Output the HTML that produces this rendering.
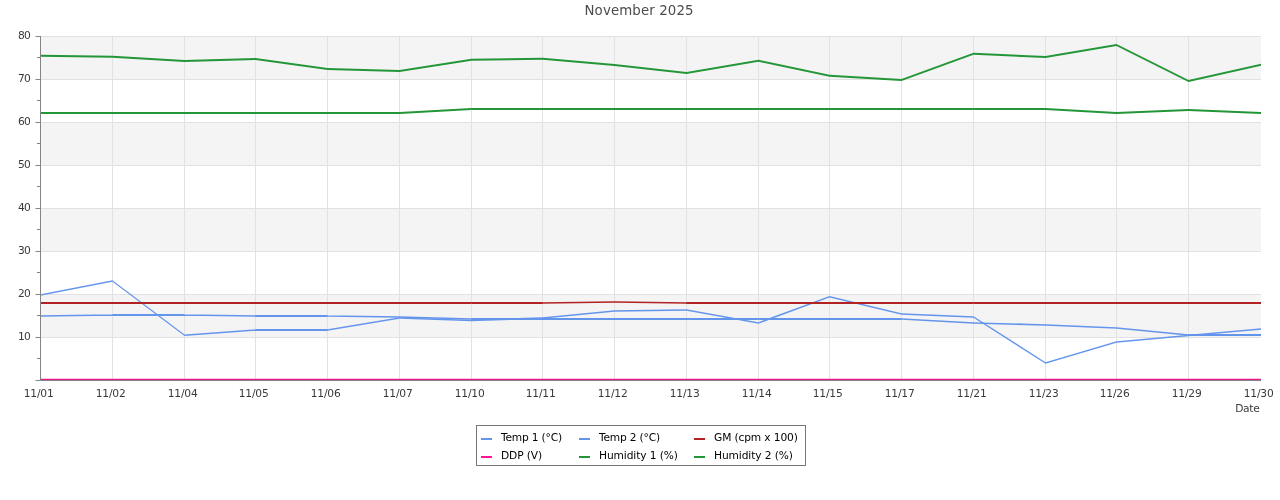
<!DOCTYPE html>
<html><head><meta charset="utf-8"><title>November 2025</title>
<style>
html,body{margin:0;padding:0;background:#fff;width:1280px;height:500px;overflow:hidden}
text{font-family:"DejaVu Sans","Liberation Sans",sans-serif}
.yl{font-size:10.67px;fill:#3a3a3a}
.xl{font-size:10.67px;fill:#3a3a3a}
.ti{font-size:13.33px;fill:#4c4c4c}
.lg{font-size:10.67px;fill:#000}
</style></head><body>
<svg width="1280" height="500" viewBox="0 0 1280 500" style="position:absolute;left:0;top:0">
<rect x="40.5" y="36.5" width="1220.5" height="43" fill="#f4f4f4"/>
<rect x="40.5" y="122.5" width="1220.5" height="43" fill="#f4f4f4"/>
<rect x="40.5" y="208.5" width="1220.5" height="43" fill="#f4f4f4"/>
<rect x="40.5" y="294.5" width="1220.5" height="43" fill="#f4f4f4"/>
<line x1="40.5" y1="36.5" x2="1261" y2="36.5" stroke="#e2e2e2" stroke-width="1"/>
<line x1="40.5" y1="79.5" x2="1261" y2="79.5" stroke="#e2e2e2" stroke-width="1"/>
<line x1="40.5" y1="122.5" x2="1261" y2="122.5" stroke="#e2e2e2" stroke-width="1"/>
<line x1="40.5" y1="165.5" x2="1261" y2="165.5" stroke="#e2e2e2" stroke-width="1"/>
<line x1="40.5" y1="208.5" x2="1261" y2="208.5" stroke="#e2e2e2" stroke-width="1"/>
<line x1="40.5" y1="251.5" x2="1261" y2="251.5" stroke="#e2e2e2" stroke-width="1"/>
<line x1="40.5" y1="294.5" x2="1261" y2="294.5" stroke="#e2e2e2" stroke-width="1"/>
<line x1="40.5" y1="337.5" x2="1261" y2="337.5" stroke="#e2e2e2" stroke-width="1"/>
<line x1="112.50" y1="36.5" x2="112.50" y2="380.5" stroke="#e2e2e2" stroke-width="1"/>
<line x1="184.50" y1="36.5" x2="184.50" y2="380.5" stroke="#e2e2e2" stroke-width="1"/>
<line x1="255.50" y1="36.5" x2="255.50" y2="380.5" stroke="#e2e2e2" stroke-width="1"/>
<line x1="327.50" y1="36.5" x2="327.50" y2="380.5" stroke="#e2e2e2" stroke-width="1"/>
<line x1="399.50" y1="36.5" x2="399.50" y2="380.5" stroke="#e2e2e2" stroke-width="1"/>
<line x1="471.50" y1="36.5" x2="471.50" y2="380.5" stroke="#e2e2e2" stroke-width="1"/>
<line x1="542.50" y1="36.5" x2="542.50" y2="380.5" stroke="#e2e2e2" stroke-width="1"/>
<line x1="614.50" y1="36.5" x2="614.50" y2="380.5" stroke="#e2e2e2" stroke-width="1"/>
<line x1="686.50" y1="36.5" x2="686.50" y2="380.5" stroke="#e2e2e2" stroke-width="1"/>
<line x1="758.50" y1="36.5" x2="758.50" y2="380.5" stroke="#e2e2e2" stroke-width="1"/>
<line x1="829.50" y1="36.5" x2="829.50" y2="380.5" stroke="#e2e2e2" stroke-width="1"/>
<line x1="901.50" y1="36.5" x2="901.50" y2="380.5" stroke="#e2e2e2" stroke-width="1"/>
<line x1="973.50" y1="36.5" x2="973.50" y2="380.5" stroke="#e2e2e2" stroke-width="1"/>
<line x1="1045.50" y1="36.5" x2="1045.50" y2="380.5" stroke="#e2e2e2" stroke-width="1"/>
<line x1="1116.50" y1="36.5" x2="1116.50" y2="380.5" stroke="#e2e2e2" stroke-width="1"/>
<line x1="1188.50" y1="36.5" x2="1188.50" y2="380.5" stroke="#e2e2e2" stroke-width="1"/>
<line x1="40.5" y1="380.5" x2="1261" y2="380.5" stroke="#848484" stroke-width="1"/>
<path d="M40.50,294.14L112.50,280.14L112.50,281.86L40.50,295.86ZM112.50,280.14L184.50,334.39L184.50,336.11L112.50,281.86ZM184.50,334.39L255.50,329.14L255.50,330.86L184.50,336.11ZM255.50,329.00L327.50,329.00L327.50,331.00L255.50,331.00ZM327.50,329.14L399.50,317.14L399.50,318.86L327.50,330.86ZM399.50,317.14L471.50,319.64L471.50,321.36L399.50,318.86ZM471.50,319.64L542.50,317.14L542.50,318.86L471.50,321.36ZM542.50,317.14L614.50,310.14L614.50,311.86L542.50,318.86ZM614.50,310.14L686.50,309.14L686.50,310.86L614.50,311.86ZM686.50,309.14L758.50,322.14L758.50,323.86L686.50,310.86ZM758.50,322.14L829.50,295.89L829.50,297.61L758.50,323.86ZM829.50,295.89L901.50,313.14L901.50,314.86L829.50,297.61ZM901.50,313.14L973.50,316.14L973.50,317.86L901.50,314.86ZM973.50,316.14L1045.50,362.14L1045.50,363.86L973.50,317.86ZM1045.50,362.14L1116.50,341.14L1116.50,342.86L1045.50,363.86ZM1116.50,341.14L1188.50,334.64L1188.50,336.36L1116.50,342.86ZM1188.50,334.64L1261.00,328.14L1261.00,329.86L1188.50,336.36Z" fill="#6495ed"/>
<path d="M40.50,315.14L112.50,314.14L112.50,315.86L40.50,316.86ZM112.50,314.00L184.50,314.00L184.50,316.00L112.50,316.00ZM184.50,314.14L255.50,315.14L255.50,316.86L184.50,315.86ZM255.50,315.00L327.50,315.00L327.50,317.00L255.50,317.00ZM327.50,315.14L399.50,316.14L399.50,317.86L327.50,316.86ZM399.50,316.14L471.50,318.14L471.50,319.86L399.50,317.86ZM471.50,318.00L542.50,318.00L542.50,320.00L471.50,320.00ZM542.50,318.00L614.50,318.00L614.50,320.00L542.50,320.00ZM614.50,318.00L686.50,318.00L686.50,320.00L614.50,320.00ZM686.50,318.00L758.50,318.00L758.50,320.00L686.50,320.00ZM758.50,318.00L829.50,318.00L829.50,320.00L758.50,320.00ZM829.50,318.00L901.50,318.00L901.50,320.00L829.50,320.00ZM901.50,318.14L973.50,322.14L973.50,323.86L901.50,319.86ZM973.50,322.14L1045.50,324.14L1045.50,325.86L973.50,323.86ZM1045.50,324.14L1116.50,327.14L1116.50,328.86L1045.50,325.86ZM1116.50,327.14L1188.50,334.14L1188.50,335.86L1116.50,328.86ZM1188.50,334.00L1261.00,334.00L1261.00,336.00L1188.50,336.00Z" fill="#6495ed"/>
<path d="M40.50,302.00L112.50,302.00L112.50,304.00L40.50,304.00ZM112.50,302.00L184.50,302.00L184.50,304.00L112.50,304.00ZM184.50,302.00L255.50,302.00L255.50,304.00L184.50,304.00ZM255.50,302.00L327.50,302.00L327.50,304.00L255.50,304.00ZM327.50,302.00L399.50,302.00L399.50,304.00L327.50,304.00ZM399.50,302.00L471.50,302.00L471.50,304.00L399.50,304.00ZM471.50,302.00L542.50,302.00L542.50,304.00L471.50,304.00ZM542.50,302.14L614.50,301.14L614.50,302.86L542.50,303.86ZM614.50,301.14L686.50,302.14L686.50,303.86L614.50,302.86ZM686.50,302.00L758.50,302.00L758.50,304.00L686.50,304.00ZM758.50,302.00L829.50,302.00L829.50,304.00L758.50,304.00ZM829.50,302.00L901.50,302.00L901.50,304.00L829.50,304.00ZM901.50,302.00L973.50,302.00L973.50,304.00L901.50,304.00ZM973.50,302.00L1045.50,302.00L1045.50,304.00L973.50,304.00ZM1045.50,302.00L1116.50,302.00L1116.50,304.00L1045.50,304.00ZM1116.50,302.00L1188.50,302.00L1188.50,304.00L1116.50,304.00ZM1188.50,302.00L1261.00,302.00L1261.00,304.00L1188.50,304.00Z" fill="#b22222"/>
<path d="M40.50,54.77L112.50,55.77L112.50,57.73L40.50,56.73ZM112.50,55.77L184.50,60.02L184.50,61.98L112.50,57.73ZM184.50,60.02L255.50,58.02L255.50,59.98L184.50,61.98ZM255.50,58.02L327.50,68.02L327.50,69.98L255.50,59.98ZM327.50,68.02L399.50,70.02L399.50,71.98L327.50,69.98ZM399.50,70.02L471.50,58.77L471.50,60.73L399.50,71.98ZM471.50,58.77L542.50,57.77L542.50,59.73L471.50,60.73ZM542.50,57.77L614.50,64.02L614.50,65.98L542.50,59.73ZM614.50,64.02L686.50,72.02L686.50,73.98L614.50,65.98ZM686.50,72.02L758.50,59.77L758.50,61.73L686.50,73.98ZM758.50,59.77L829.50,74.77L829.50,76.73L758.50,61.73ZM829.50,74.77L901.50,79.02L901.50,80.98L829.50,76.73ZM901.50,79.02L973.50,52.77L973.50,54.73L901.50,80.98ZM973.50,52.77L1045.50,56.02L1045.50,57.98L973.50,54.73ZM1045.50,56.02L1116.50,44.02L1116.50,45.98L1045.50,57.98ZM1116.50,44.02L1188.50,80.02L1188.50,81.98L1116.50,45.98ZM1188.50,80.02L1261.00,63.77L1261.00,65.73L1188.50,81.98Z" fill="#239637"/>
<path d="M40.50,112.00L112.50,112.00L112.50,114.00L40.50,114.00ZM112.50,112.00L184.50,112.00L184.50,114.00L112.50,114.00ZM184.50,112.00L255.50,112.00L255.50,114.00L184.50,114.00ZM255.50,112.00L327.50,112.00L327.50,114.00L255.50,114.00ZM327.50,112.00L399.50,112.00L399.50,114.00L327.50,114.00ZM399.50,112.02L471.50,108.02L471.50,109.98L399.50,113.98ZM471.50,108.00L542.50,108.00L542.50,110.00L471.50,110.00ZM542.50,108.00L614.50,108.00L614.50,110.00L542.50,110.00ZM614.50,108.00L686.50,108.00L686.50,110.00L614.50,110.00ZM686.50,108.00L758.50,108.00L758.50,110.00L686.50,110.00ZM758.50,108.00L829.50,108.00L829.50,110.00L758.50,110.00ZM829.50,108.00L901.50,108.00L901.50,110.00L829.50,110.00ZM901.50,108.00L973.50,108.00L973.50,110.00L901.50,110.00ZM973.50,108.00L1045.50,108.00L1045.50,110.00L973.50,110.00ZM1045.50,108.02L1116.50,112.02L1116.50,113.98L1045.50,109.98ZM1116.50,112.02L1188.50,109.02L1188.50,110.98L1116.50,113.98ZM1188.50,109.02L1261.00,112.02L1261.00,113.98L1188.50,110.98Z" fill="#239637"/>
<line x1="41.0" y1="379.35" x2="1261" y2="379.35" stroke="#ec178d" stroke-width="1.2"/>
<line x1="40.5" y1="36.0" x2="40.5" y2="381.0" stroke="#848484" stroke-width="1"/>
<line x1="35.5" y1="36.5" x2="40.5" y2="36.5" stroke="#848484" stroke-width="1"/>
<line x1="37.0" y1="57.5" x2="40.5" y2="57.5" stroke="#848484" stroke-width="1"/>
<line x1="35.5" y1="79.5" x2="40.5" y2="79.5" stroke="#848484" stroke-width="1"/>
<line x1="37.0" y1="100.5" x2="40.5" y2="100.5" stroke="#848484" stroke-width="1"/>
<line x1="35.5" y1="122.5" x2="40.5" y2="122.5" stroke="#848484" stroke-width="1"/>
<line x1="37.0" y1="143.5" x2="40.5" y2="143.5" stroke="#848484" stroke-width="1"/>
<line x1="35.5" y1="165.5" x2="40.5" y2="165.5" stroke="#848484" stroke-width="1"/>
<line x1="37.0" y1="186.5" x2="40.5" y2="186.5" stroke="#848484" stroke-width="1"/>
<line x1="35.5" y1="208.5" x2="40.5" y2="208.5" stroke="#848484" stroke-width="1"/>
<line x1="37.0" y1="229.5" x2="40.5" y2="229.5" stroke="#848484" stroke-width="1"/>
<line x1="35.5" y1="251.5" x2="40.5" y2="251.5" stroke="#848484" stroke-width="1"/>
<line x1="37.0" y1="272.5" x2="40.5" y2="272.5" stroke="#848484" stroke-width="1"/>
<line x1="35.5" y1="294.5" x2="40.5" y2="294.5" stroke="#848484" stroke-width="1"/>
<line x1="37.0" y1="315.5" x2="40.5" y2="315.5" stroke="#848484" stroke-width="1"/>
<line x1="35.5" y1="337.5" x2="40.5" y2="337.5" stroke="#848484" stroke-width="1"/>
<line x1="37.0" y1="358.5" x2="40.5" y2="358.5" stroke="#848484" stroke-width="1"/>
<line x1="35.5" y1="380.5" x2="40.5" y2="380.5" stroke="#848484" stroke-width="1"/>
<text x="30.9" y="39.0" text-anchor="end" textLength="12.8" class="yl">80</text>
<text x="30.9" y="82.0" text-anchor="end" textLength="12.8" class="yl">70</text>
<text x="30.9" y="125.0" text-anchor="end" textLength="12.8" class="yl">60</text>
<text x="30.9" y="168.0" text-anchor="end" textLength="12.8" class="yl">50</text>
<text x="30.9" y="211.0" text-anchor="end" textLength="12.8" class="yl">40</text>
<text x="30.9" y="254.0" text-anchor="end" textLength="12.8" class="yl">30</text>
<text x="30.9" y="297.0" text-anchor="end" textLength="12.8" class="yl">20</text>
<text x="30.9" y="340.0" text-anchor="end" textLength="12.8" class="yl">10</text>
<text x="23.70" y="397" textLength="30" class="xl">11/01</text>
<text x="95.70" y="397" textLength="30" class="xl">11/02</text>
<text x="167.70" y="397" textLength="30" class="xl">11/04</text>
<text x="238.70" y="397" textLength="30" class="xl">11/05</text>
<text x="310.70" y="397" textLength="30" class="xl">11/06</text>
<text x="382.70" y="397" textLength="30" class="xl">11/07</text>
<text x="454.70" y="397" textLength="30" class="xl">11/10</text>
<text x="525.70" y="397" textLength="30" class="xl">11/11</text>
<text x="597.70" y="397" textLength="30" class="xl">11/12</text>
<text x="669.70" y="397" textLength="30" class="xl">11/13</text>
<text x="741.70" y="397" textLength="30" class="xl">11/14</text>
<text x="812.70" y="397" textLength="30" class="xl">11/15</text>
<text x="884.70" y="397" textLength="30" class="xl">11/17</text>
<text x="956.70" y="397" textLength="30" class="xl">11/21</text>
<text x="1028.70" y="397" textLength="30" class="xl">11/23</text>
<text x="1099.70" y="397" textLength="30" class="xl">11/26</text>
<text x="1171.70" y="397" textLength="30" class="xl">11/29</text>
<text x="1243.70" y="397" textLength="30" class="xl">11/30</text>
<text x="1259.7" y="412" text-anchor="end" textLength="24.5" class="xl">Date</text>
<text x="639" y="15.2" text-anchor="middle" textLength="109" class="ti">November 2025</text>
<rect x="476.5" y="425.5" width="329" height="40" fill="#fff" stroke="#767676" stroke-width="1"/>
<rect x="481" y="438" width="11" height="2" fill="#6495ed"/>
<text x="501" y="441" textLength="61.05" class="lg">Temp 1 (°C)</text>
<rect x="579" y="438" width="11" height="2" fill="#6495ed"/>
<text x="599" y="441" textLength="61.15" class="lg">Temp 2 (°C)</text>
<rect x="694" y="438" width="11" height="2" fill="#b22222"/>
<text x="714" y="441" textLength="83.9" class="lg">GM (cpm x 100)</text>
<rect x="481" y="456" width="11" height="2" fill="#ff1493"/>
<text x="501" y="459" textLength="41.1" class="lg">DDP (V)</text>
<rect x="579" y="456" width="11" height="2" fill="#239637"/>
<text x="599" y="459" textLength="78.9" class="lg">Humidity 1 (%)</text>
<rect x="694" y="456" width="11" height="2" fill="#239637"/>
<text x="714" y="459" textLength="78.9" class="lg">Humidity 2 (%)</text>
</svg>
</body></html>
